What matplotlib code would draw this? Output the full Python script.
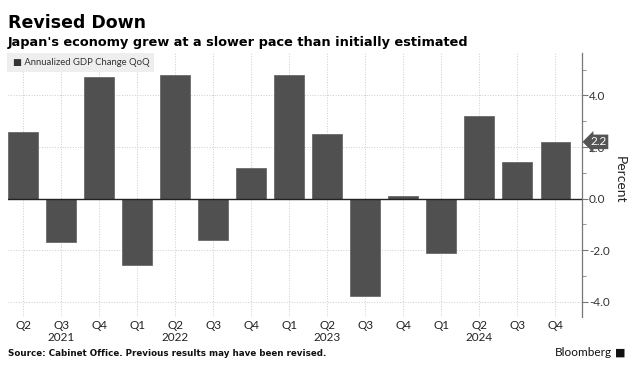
import matplotlib.pyplot as plt
import numpy as np

# quarterly data, annualized GDP change QoQ
quarters = ['Q2', 'Q3', 'Q4', 'Q1', 'Q2', 'Q3', 'Q4', 'Q1', 'Q2', 'Q3', 'Q4', 'Q1', 'Q2', 'Q3', 'Q4']
years = ['', '2021', '', '', '2022', '', '', '', '2023', '', '', '', '2024', '', '']
gdp = [2.6, -1.7, 4.7, -2.6, 4.8, -1.6, 1.2, 4.8, 2.5, -3.8, 0.1, -2.1, 3.2, 1.4, 2.2]
yticks = [-4.0, -2.0, 0.0, 2.0, 4.0]
minor_yticks = [-3.0, -1.0, 1.0, 3.0, 5.0]

plt.rcParams['font.family'] = ['Lato', 'DejaVu Sans']

fig = plt.figure(figsize=(6.3, 3.78), dpi=100)
ax = fig.add_axes([0.0127, 0.1614, 0.911, 0.6984])

x = np.arange(len(gdp))
ax.bar(x, gdp, width=0.78, color='#505050', edgecolor='#6a6a6a', linewidth=0.6, zorder=3)
ax.axhline(0, color='#222222', linewidth=1.0, zorder=4)

ax.set_xlim(-0.4, 14.7)
ax.set_ylim(-4.6, 5.65)

ax.set_xticks(x)
ax.set_xticklabels([q + ('\n' + y if y else '') for q, y in zip(quarters, years)],
                   fontsize=8.5, color='#222222', linespacing=1.1)
ax.tick_params(axis='x', length=0, pad=2)

ax.yaxis.tick_right()
ax.set_yticks(yticks)
ax.set_yticklabels(['%.1f' % v for v in yticks], fontsize=8.5, color='#333333')
ax.set_yticks(minor_yticks, minor=True)
ax.tick_params(axis='y', which='major', length=4, width=0.8, color='#777777', pad=1, direction='out')
ax.tick_params(axis='y', which='minor', length=3, width=0.8, color='#999999', direction='out')

ax.grid(True, which='major', color='#cccccc', linestyle=':', linewidth=0.7, zorder=0)

for s in ['top', 'left', 'bottom']:
    ax.spines[s].set_visible(False)
ax.spines['right'].set_color('#777777')
ax.spines['right'].set_linewidth(0.9)

# legend box
ax.text(0.008, 0.98, '\u25a0 Annualized GDP Change QoQ', transform=ax.transAxes,
        fontsize=6.8, color='#333333', va='top', ha='left', zorder=6,
        bbox=dict(boxstyle='square,pad=0.55', facecolor='#eeeeee', edgecolor='none'))

# last value marker on axis
ax.annotate('2.2', xy=(14.7, gdp[-1]), xycoords='data', xytext=(6, 0), textcoords='offset points',
            fontsize=8.5, color='white', va='center', ha='left', annotation_clip=False, zorder=7,
            bbox=dict(boxstyle='larrow,pad=0.15', facecolor='#555555', edgecolor='none'))

fig.text(0.984, 0.524, 'Percent', rotation=-90, fontsize=10, color='#222222', ha='center', va='center')

fig.text(0.013, 0.925, 'Revised Down', fontsize=12.5, fontweight='bold', family='DejaVu Sans', color='black')
fig.text(0.013, 0.877, "Japan's economy grew at a slower pace than initially estimated",
         fontsize=9.3, fontweight='bold', family='DejaVu Sans', color='black')
fig.text(0.013, 0.058, 'Source: Cabinet Office. Previous results may have been revised.',
         fontsize=6.3, fontweight='bold', family='DejaVu Sans', color='#111111')
fig.text(0.972, 0.058, 'Bloomberg', fontsize=8.5, color='#111111', ha='right', family='Lato')
fig.text(0.976, 0.06, '\u25a0', fontsize=8, color='#111111', ha='left', family='DejaVu Sans')

plt.savefig('out.png', dpi=100)
